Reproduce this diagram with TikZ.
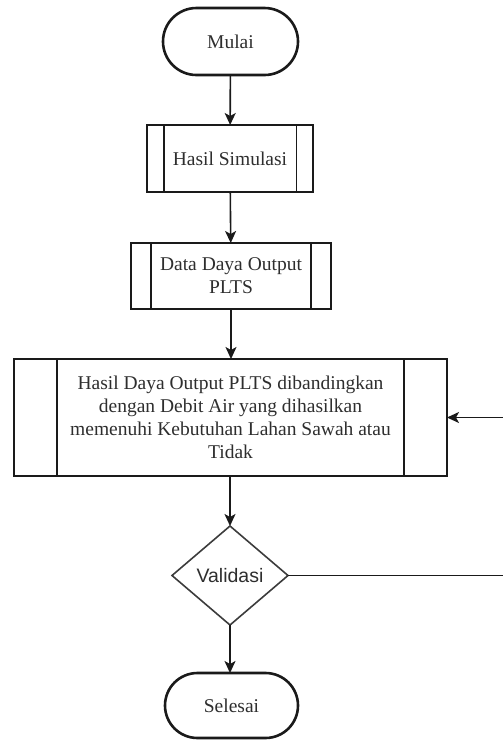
\documentclass[tikz,border=0pt]{standalone}
\usepackage{fontspec}
\setmainfont{Liberation Serif}
\newfontfamily\labelsans{Liberation Sans}
\usetikzlibrary{shapes.geometric,shapes.misc,arrows.meta,calc}
\definecolor{ink}{HTML}{1A1A1A}
\definecolor{txt}{HTML}{2E2E2E}
\begin{document}
\begin{tikzpicture}[x=1pt,y=-1pt,
  every node/.style={inner sep=0pt, outer sep=0pt, text=txt,
    font=\fontsize{19.5}{23}\selectfont, align=center},
  terminal/.style={draw=ink, line width=2.6pt, rounded rectangle,
    minimum width=#1, minimum height=67pt},
  predef/.style n args={2}{draw=ink, line width=1.8pt, rectangle,
    minimum width=#1, minimum height=#2,
    path picture={
      \draw[ink, line width=1.8pt]
        ($(path picture bounding box.north west)!0.1!(path picture bounding box.north east)$) --
        ($(path picture bounding box.south west)!0.1!(path picture bounding box.south east)$)
        ($(path picture bounding box.north west)!0.9!(path picture bounding box.north east)$) --
        ($(path picture bounding box.south west)!0.9!(path picture bounding box.south east)$);
    }},
  decision/.style={draw=ink!85, line width=1.6pt, diamond,
    font=\labelsans\fontsize{19.5}{23}\selectfont},
  flow/.style={draw=ink, line width=1.6pt,
    -{Stealth[length=12pt,width=11pt,inset=3pt]}},
  plain/.style={draw=ink, line width=1.6pt}]
\useasboundingbox (0,0) rectangle (503,740);

\node[terminal=135pt] (mulai) at (230.5,41.5) {Mulai};
\node[predef={166pt}{67pt}] (sim) at (230,158.5) {Hasil Simulasi};
\node[predef={200pt}{66pt}] (data) at (231,276) {Data Daya Output\\PLTS};
\node[predef={433pt}{117pt}] (hasil) at (230.5,417.5)
  {Hasil Daya Output PLTS dibandingkan\\dengan Debit Air yang dihasilkan\\memenuhi Kebutuhan Lahan Sawah atau\\Tidak};
\node[decision, minimum width=116pt, minimum height=99pt, shape aspect=1.17] (val) at (230,575.5) {Validasi};
\node[terminal=133pt, minimum height=65pt] (selesai) at (231.5,705.5) {Selesai};

\coordinate (loopdown) at (512,575.5);
\coordinate (loopup) at (512,417.5);

\draw[flow] (mulai) -- (sim);
\draw[flow] (sim) -- (data);
\draw[flow] (data) -- (hasil.north -| data.south);
\draw[flow] (hasil.south -| val.north) -- (val);
\draw[flow] (val) -- (selesai.north -| val.south);
\draw[flow] (val.east) -- (loopdown) -- (loopup) -- (hasil.east);
\end{tikzpicture}
\end{document}
